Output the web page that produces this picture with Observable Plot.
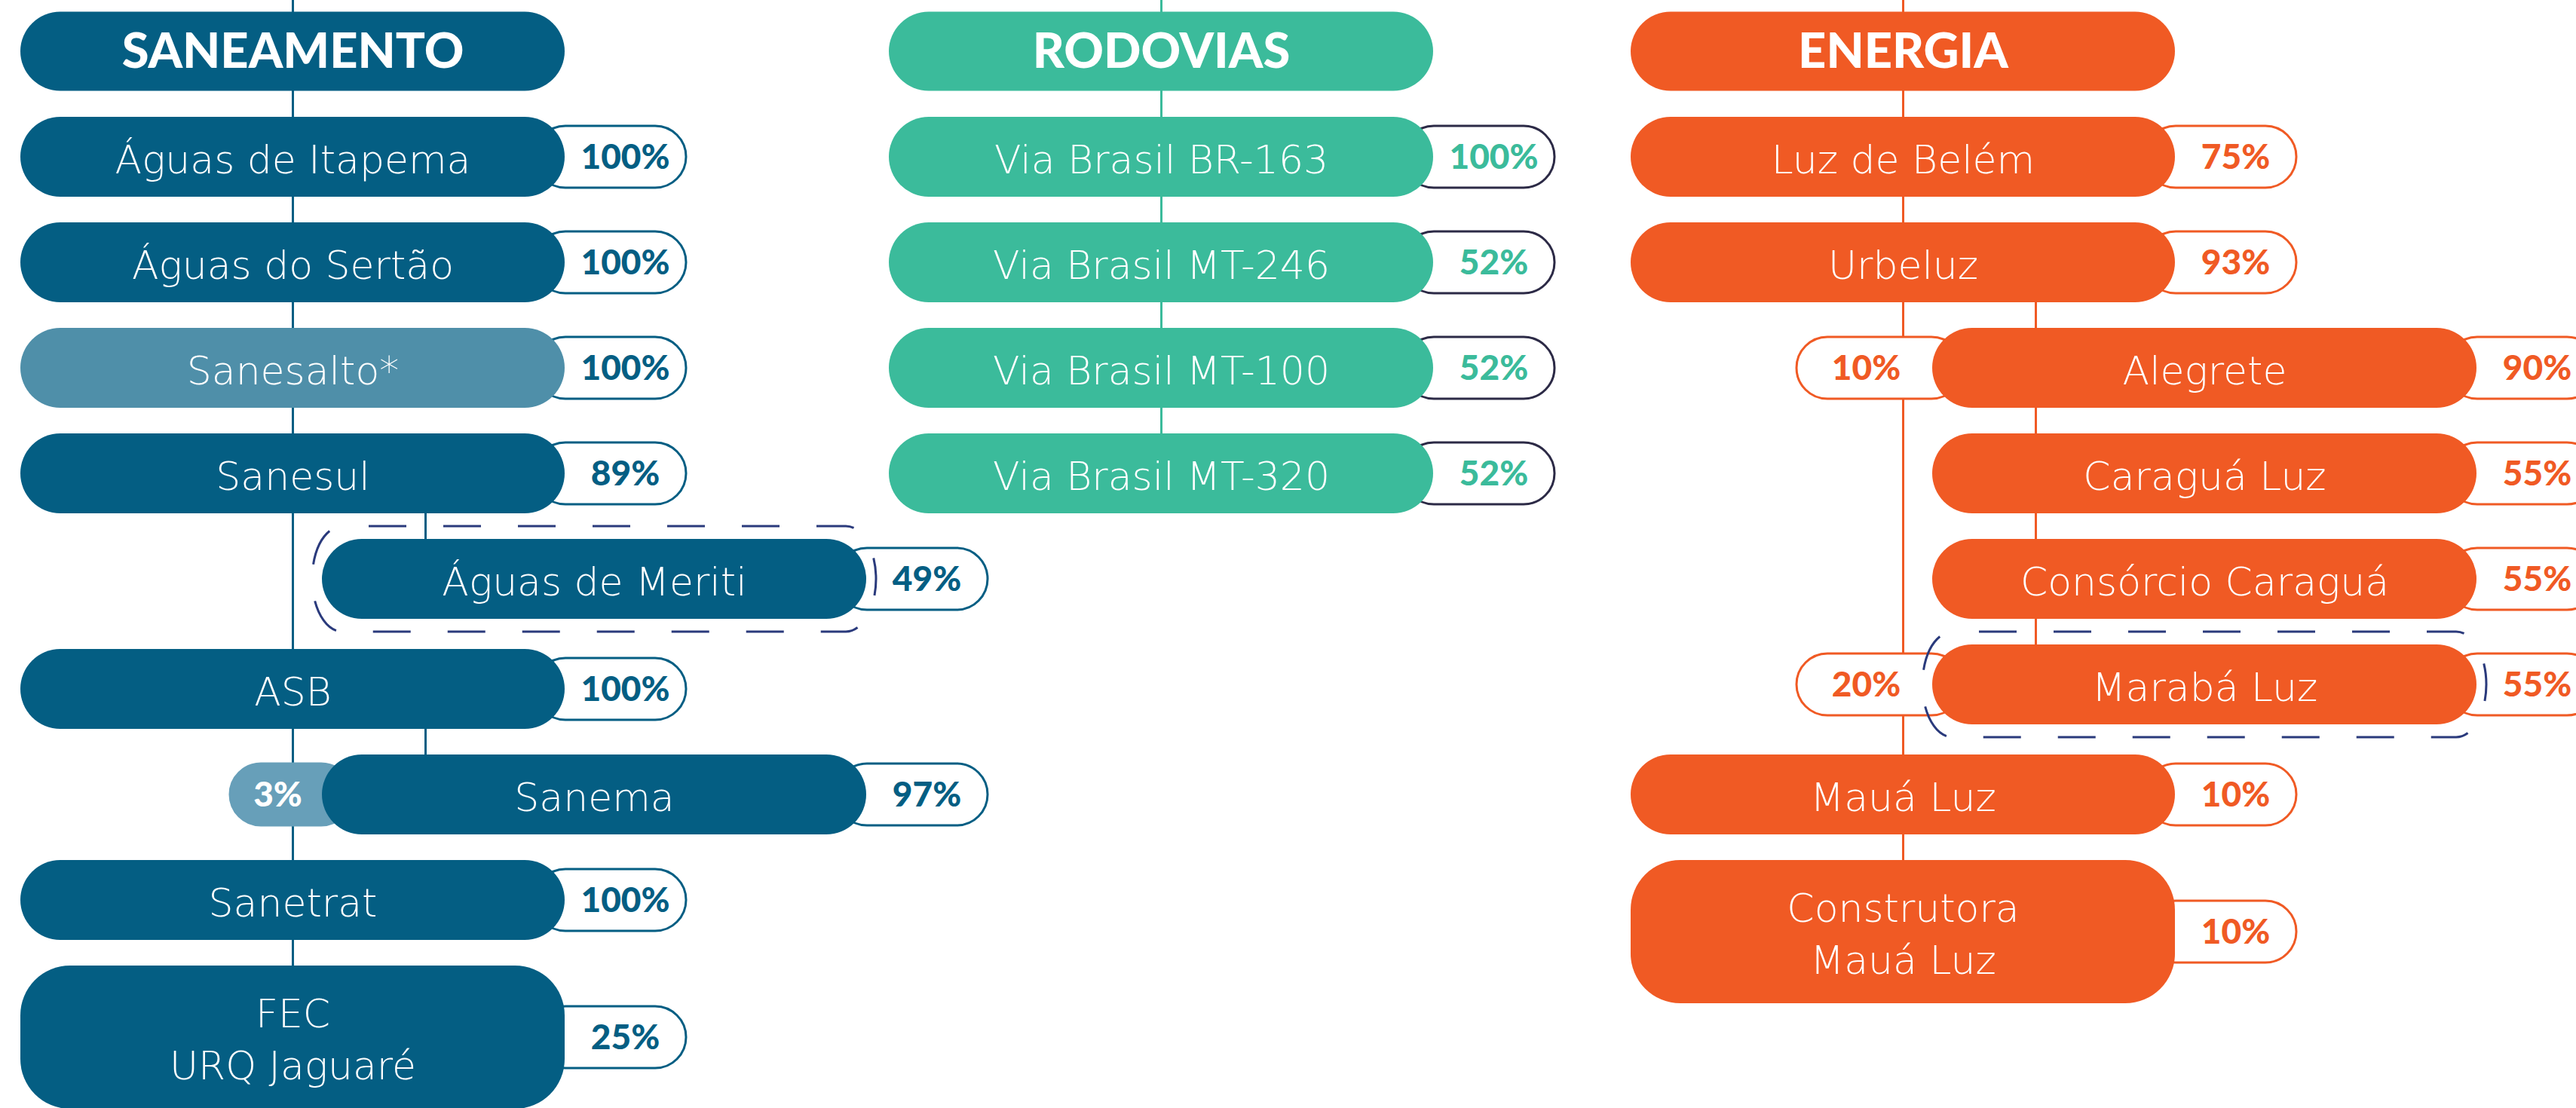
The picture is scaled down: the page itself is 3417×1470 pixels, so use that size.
<!DOCTYPE html>
<html>
<head>
<meta charset="utf-8">
<script src="https://cdn.jsdelivr.net/npm/d3@7"></script>
<script src="https://cdn.jsdelivr.net/npm/@observablehq/plot@0.6"></script>
<style>
html, body { margin: 0; padding: 0; background: #ffffff; overflow: hidden; }
#chart svg { display: block; }
</style>
</head>
<body>
<div id="chart"></div>
<script>
// ================= DATA =================
const sectors = ["SANEAMENTO", "RODOVIAS", "ENERGIA"];

const saneamentoCompanies = ["Águas de Itapema", "Águas do Sertão", "Sanesalto*", "Sanesul", "Águas de Meriti", "ASB", "Sanema", "Sanetrat", "FEC\nURQ Jaguaré"];
const saneamentoStakes = ["100%", "100%", "100%", "89%", "49%", "100%", "97%", "100%", "25%"];
const saneamentoLevels = [0, 0, 0, 0, 1, 0, 1, 0, 0];
const saneamentoOtherStakes = ["", "", "", "", "", "", "3%", "", ""];
const saneamentoShared = [false, false, false, false, true, false, false, false, false];
const saneamentoHighlighted = [false, false, true, false, false, false, false, false, false];

const rodoviasCompanies = ["Via Brasil BR-163", "Via Brasil MT-246", "Via Brasil MT-100", "Via Brasil MT-320"];
const rodoviasStakes = ["100%", "52%", "52%", "52%"];
const rodoviasLevels = [0, 0, 0, 0];
const rodoviasOtherStakes = ["", "", "", ""];
const rodoviasShared = [false, false, false, false];
const rodoviasHighlighted = [false, false, false, false];

const energiaCompanies = ["Luz de Belém", "Urbeluz", "Alegrete", "Caraguá Luz", "Consórcio Caraguá", "Marabá Luz", "Mauá Luz", "Construtora\nMauá Luz"];
const energiaStakes = ["75%", "93%", "90%", "55%", "55%", "55%", "10%", "10%"];
const energiaLevels = [0, 0, 1, 1, 1, 1, 0, 0];
const energiaOtherStakes = ["", "", "10%", "", "", "20%", "", ""];
const energiaShared = [false, false, false, false, false, true, false, false];
const energiaHighlighted = [false, false, false, false, false, false, false, false];

// ================= STYLE / LAYOUT =================
const W = 3417, H = 1470;
const ROW = 140;                 // px per row
const ROW0 = 208;                // px of first company row centre
const yDomain = [-ROW0 / ROW, (H - ROW0) / ROW];
const colLeft = [27, 1179, 2163];
const PILL_W = 722, INDENT = 400;
const PILL_H = 106 / ROW, TALL_H = 190 / ROW, HEAD_H = 105 / ROW, TAB_H = 82 / ROW;
const GAP = 1 - PILL_H;
const SHARED_EXTRA = 6 / ROW;
const TAB_EXT = 161, TAB_TEXT = 80;
const SUB_LINE = 137;
const BOX_PADX = 13, BOX_PADY = 17 / ROW;

const styles = [
  {main: "#045e83", light: "#4f8fa9", line: "#045e83", tabStroke: "#045e83", tabText: "#045e83", otherFill: "#679fb9", otherStroke: "#679fb9", otherText: "#ffffff"},
  {main: "#3bbb9b", light: "#3bbb9b", line: "#3bbb9b", tabStroke: "#2c2a46", tabText: "#3bbb9b", otherFill: "#ffffff", otherStroke: "#2c2a46", otherText: "#3bbb9b"},
  {main: "#f05a24", light: "#f05a24", line: "#f05a24", tabStroke: "#f05a24", tabText: "#f05a24", otherFill: "#ffffff", otherStroke: "#f05a24", otherText: "#f05a24"}
];
const dashColor = "#2a3a7c";

const sectorInputs = [
  [saneamentoCompanies, saneamentoStakes, saneamentoLevels, saneamentoOtherStakes, saneamentoShared, saneamentoHighlighted],
  [rodoviasCompanies, rodoviasStakes, rodoviasLevels, rodoviasOtherStakes, rodoviasShared, rodoviasHighlighted],
  [energiaCompanies, energiaStakes, energiaLevels, energiaOtherStakes, energiaShared, energiaHighlighted]
];

const headers = [], nodes = [], lines = [];
sectorInputs.forEach(([names, stakes, levels, others, shared, hi], si) => {
  const st = styles[si];
  const left0 = colLeft[si];
  headers.push({name: sectors[si], x1: left0, x2: left0 + PILL_W, cy: -1, h: HEAD_H, fill: st.main});
  const list = [];
  names.forEach((name, i) => {
    const tall = name.includes("\n");
    const h = tall ? TALL_H : PILL_H;
    let cy;
    if (i === 0) cy = 0;
    else {
      const p = list[i - 1];
      cy = p.cy + p.h / 2 + GAP + h / 2 + (p.shared ? SHARED_EXTRA : 0);
    }
    const x1 = left0 + levels[i] * INDENT;
    list.push({
      name, stake: stakes[i], other: others[i], level: levels[i], shared: shared[i], tall,
      cy, h, x1, x2: x1 + PILL_W,
      fill: hi[i] ? st.light : st.main, st
    });
  });
  // main connector
  const level0 = list.filter(d => d.level === 0);
  const last0 = level0[level0.length - 1];
  lines.push({x: left0 + PILL_W / 2, y1: yDomain[0], y2: last0.cy - last0.h / 2, stroke: st.line});
  // sub connectors
  list.forEach((d, i) => {
    if (d.level === 1 && i > 0 && list[i - 1].level === 0) {
      const parent = list[i - 1];
      let j = i;
      while (j + 1 < list.length && list[j + 1].level === 1) j++;
      const lastChild = list[j];
      lines.push({x: d.x1 + SUB_LINE, y1: parent.cy + parent.h / 2, y2: lastChild.cy - lastChild.h / 2, stroke: st.line});
    }
  });
  nodes.push(...list);
});

const tabs = nodes.map(d => ({...d, tx1: d.x2 - 40, tx2: d.x2 + TAB_EXT, tx: d.x2 + TAB_TEXT}));
const otherTabs = nodes.filter(d => d.other).map(d => {
  const ext = 6 + 58 * d.other.length;
  return {...d, ox1: d.x1 - ext, ox2: d.x1 + 40, ox: d.x1 - ext / 2 + 2};
});
const boxes = nodes.filter(d => d.shared);

const normalNodes = nodes.filter(d => !d.tall);
const tallNodes = nodes.filter(d => d.tall);

const BOLD = "Lato, 'Open Sans', sans-serif";
const LIGHT = "'DejaVu Sans', 'Open Sans', sans-serif";

const chart = Plot.plot({
  width: W,
  height: H,
  margin: 0,
  x: {type: "linear", domain: [0, W], range: [0, W], axis: null},
  y: {type: "linear", domain: yDomain, range: [0, H], axis: null},
  color: {type: "identity"},
  style: {background: "#ffffff", fontFamily: BOLD},
  marks: [
    Plot.ruleX(lines, {x: "x", y1: "y1", y2: "y2", stroke: "stroke", strokeWidth: 3}),
    // right ownership tabs
    Plot.rect(tabs, {x1: "tx1", x2: "tx2", y1: d => d.cy - TAB_H / 2, y2: d => d.cy + TAB_H / 2,
      fill: "#ffffff", stroke: d => d.st.tabStroke, strokeWidth: 3, rx: 41, ry: 41}),
    // left (other holder) tabs
    Plot.rect(otherTabs, {x1: "ox1", x2: "ox2", y1: d => d.cy - TAB_H / 2, y2: d => d.cy + TAB_H / 2,
      fill: d => d.st.otherFill, stroke: d => d.st.otherStroke, strokeWidth: 3, rx: 41, ry: 41}),
    // dashed shared-control boxes
    Plot.rect(boxes, {x1: d => d.x1 - BOX_PADX, x2: d => d.x2 + BOX_PADX,
      y1: d => d.cy - d.h / 2 - BOX_PADY, y2: d => d.cy + d.h / 2 + BOX_PADY,
      fill: "none", stroke: dashColor, strokeWidth: 3, strokeDasharray: "50,49", strokeDashoffset: 64, rx: 40, ry: 70}),
    // header pills
    Plot.rect(headers, {x1: "x1", x2: "x2", y1: d => d.cy - d.h / 2, y2: d => d.cy + d.h / 2, fill: "fill", rx: 53, ry: 53}),
    // company pills
    Plot.rect(normalNodes, {x1: "x1", x2: "x2", y1: d => d.cy - d.h / 2, y2: d => d.cy + d.h / 2, fill: "fill", rx: 53, ry: 53}),
    Plot.rect(tallNodes, {x1: "x1", x2: "x2", y1: d => d.cy - d.h / 2, y2: d => d.cy + d.h / 2, fill: "fill", rx: 66, ry: 66}),
    // texts
    Plot.text(headers, {x: d => (d.x1 + d.x2) / 2, y: "cy", text: "name", fill: "#ffffff",
      fontSize: 65, fontWeight: 900, dy: 1}),
    Plot.text(nodes, {x: d => (d.x1 + d.x2) / 2, y: "cy", text: "name", fill: "#ffffff",
      fontFamily: LIGHT, fontSize: 52, fontWeight: 200, lineHeight: 1.33, dy: -1}),
    Plot.text(tabs, {x: "tx", y: "cy", text: "stake", fill: d => d.st.tabText,
      fontSize: 46, fontWeight: 900, dy: 1}),
    Plot.text(otherTabs, {x: "ox", y: "cy", text: "other", fill: d => d.st.otherText,
      fontSize: 46, fontWeight: 900, dy: 1})
  ]
});

document.getElementById("chart").appendChild(chart);
</script>
</body>
</html>
